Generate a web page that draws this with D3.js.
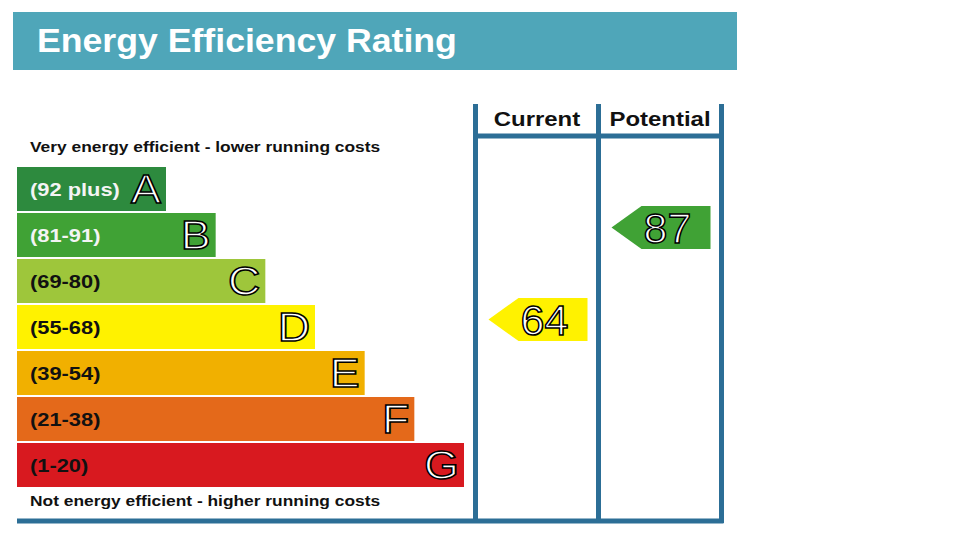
<!DOCTYPE html>
<html>
<head>
<meta charset="utf-8">
<script src="https://cdn.jsdelivr.net/npm/d3@7"></script>
<style>
  body { margin: 0; background: #fff; }
  text { font-family: "Liberation Sans", Arial, sans-serif; }
</style>
</head>
<body>
<script>
// chart data
const bands = ["A", "B", "C", "D", "E", "F", "G"];
const ranges = ["(92 plus)", "(81-91)", "(69-80)", "(55-68)", "(39-54)", "(21-38)", "(1-20)"];
const bandMins = [92, 81, 69, 55, 39, 21, 1];
const bandColors = ["#2d8a3e", "#40a235", "#9ec63b", "#fff200", "#f1b000", "#e4691a", "#d8191f"];
const labelColors = ["#f4f4f4", "#f4f4f4", "#111", "#111", "#111", "#111", "#111"];
const columns = ["Current", "Potential"];
const scores = [64, 87];

const W = 960, H = 540;
const frame = "#2c6e96";

const svg = d3.select("body").append("svg")
  .attr("width", W)
  .attr("height", H);

// the original lettering is a bit wider than Liberation Sans
function widen(sel, k) {
  sel.each(function () {
    const w = this.getComputedTextLength();
    d3.select(this)
      .attr("textLength", w * k)
      .attr("lengthAdjust", "spacingAndGlyphs");
  });
}

// title bar
svg.append("rect")
  .attr("x", 13).attr("y", 12)
  .attr("width", 724).attr("height", 58)
  .attr("fill", "#4fa6b9");

svg.append("text")
  .attr("x", 37).attr("y", 52)
  .attr("font-size", "33px")
  .attr("font-weight", "bold")
  .attr("fill", "#fff")
  .text("Energy Efficiency Rating")
  .call(widen, 1.08);

// scales
const y = d3.scaleBand()
  .domain(bands)
  .range([167, 487])
  .paddingInner(2 / 46);

const barEnd = d3.scaleLinear()
  .domain([0, bands.length - 1])
  .range([166, 464]);

const col = d3.scaleBand()
  .domain(columns)
  .range([475.5, 721.5]);

const bandOf = s => bands[bandMins.findIndex(m => s >= m)];

// captions
svg.append("text")
  .attr("x", 30).attr("y", 152)
  .attr("font-size", "15.5px")
  .attr("font-weight", "bold")
  .attr("fill", "#111")
  .text("Very energy efficient - lower running costs")
  .call(widen, 1.12);

svg.append("text")
  .attr("x", 30).attr("y", 506)
  .attr("font-size", "15.5px")
  .attr("font-weight", "bold")
  .attr("fill", "#111")
  .text("Not energy efficient - higher running costs")
  .call(widen, 1.12);

// bars
const rows = svg.append("g").selectAll("g")
  .data(bands)
  .join("g");

rows.append("rect")
  .attr("x", 17)
  .attr("y", d => y(d))
  .attr("width", (d, i) => barEnd(i) - 17)
  .attr("height", y.bandwidth())
  .attr("fill", (d, i) => bandColors[i]);

rows.append("text")
  .attr("x", 30)
  .attr("y", d => y(d) + y.bandwidth() / 2 + 7)
  .attr("font-size", "19px")
  .attr("font-weight", "bold")
  .attr("fill", (d, i) => labelColors[i])
  .text((d, i) => ranges[i])
  .call(widen, 1.15);

rows.append("text")
  .attr("x", (d, i) => barEnd(i) - 5)
  .attr("y", d => y(d) + y.bandwidth() / 2 + 14)
  .attr("text-anchor", "end")
  .attr("font-size", "40px")
  .attr("fill", "#fff")
  .attr("stroke", "#000")
  .attr("stroke-width", 1.5)
  .text(d => d)
  .call(widen, 1.12);

// column frame
const fx0 = col.range()[0], fx1 = col.range()[1];
const lines = [
  [fx0, 104, fx0, 521],
  [col("Potential"), 104, col("Potential"), 521],
  [fx1, 104, fx1, 523],
  [fx0, 136, fx1, 136],
  [17, 521, fx1 + 2, 521]
];
svg.append("g").selectAll("line")
  .data(lines)
  .join("line")
  .attr("x1", d => d[0]).attr("y1", d => d[1])
  .attr("x2", d => d[2]).attr("y2", d => d[3])
  .attr("stroke", frame)
  .attr("stroke-width", 5);

svg.append("g").selectAll("text")
  .data(columns)
  .join("text")
  .attr("x", d => col(d) + col.bandwidth() / 2)
  .attr("y", 126)
  .attr("text-anchor", "middle")
  .attr("font-size", "21px")
  .attr("font-weight", "bold")
  .attr("fill", "#111")
  .text(d => d)
  .call(widen, 1.14);

// rating arrows
const arrows = svg.append("g").selectAll("g")
  .data(columns)
  .join("g")
  .attr("transform", (d, i) => {
    const b = bandOf(scores[i]);
    return `translate(${col(d) + 13},${y(b) - 7})`;
  });

const ah = 43, aw = 99, head = 30;
arrows.append("path")
  .attr("d", `M0,${ah / 2}L${head},0H${aw}V${ah}H${head}Z`)
  .attr("fill", (d, i) => bandColors[bands.indexOf(bandOf(scores[i]))]);

arrows.append("text")
  .attr("x", 56)
  .attr("y", ah / 2 + 15)
  .attr("text-anchor", "middle")
  .attr("font-size", "43px")
  .attr("fill", "#fff")
  .attr("stroke", "#000")
  .attr("stroke-width", 1.5)
  .text((d, i) => scores[i]);
</script>
</body>
</html>
